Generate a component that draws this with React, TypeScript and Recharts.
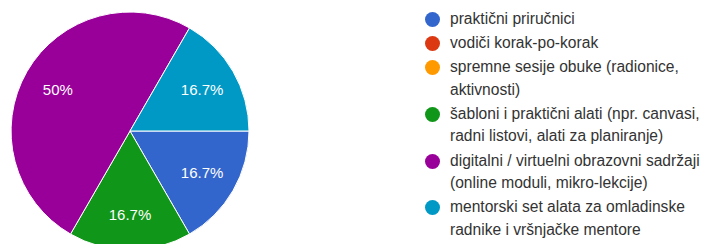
import { PieChart, Pie, Cell, Legend } from "recharts";

const categories = [
  "praktični priručnici",
  "vodiči korak-po-korak",
  "spremne sesije obuke (radionice, aktivnosti)",
  "šabloni i praktični alati (npr. canvasi, radni listovi, alati za planiranje)",
  "digitalni / virtuelni obrazovni sadržaji (online moduli, mikro-lekcije)",
  "mentorski set alata za omladinske radnike i vršnjačke mentore",
];
const responses = [1, 0, 0, 1, 3, 1];
const colors = ["#3366cc", "#dc3912", "#ff9900", "#109618", "#990099", "#0099c6"];

const data = categories.map((name, i) => ({ name, value: responses[i] }));

const RAD = Math.PI / 180;
const FONT = "'Liberation Sans', Arial, sans-serif";

const renderLabel = (props: any) => {
  const { cx, cy, midAngle, outerRadius, percent } = props;
  if (!percent) return null;
  const r = outerRadius * 0.7;
  const x = cx + r * Math.cos(-midAngle * RAD);
  const y = cy + r * Math.sin(-midAngle * RAD);
  const pct = Math.round(percent * 1000) / 10;
  return (
    <text
      x={x}
      y={y}
      fill="#ffffff"
      fontSize={15}
      fontFamily={FONT}
      textAnchor="middle"
      dominantBaseline="central"
    >
      {`${pct}%`}
    </text>
  );
};

const LegendContent = () => (
  <div style={{ fontFamily: FONT, fontSize: 15.6, color: "#333333", width: 300 }}>
    {data.map((d, i) => (
      <div
        key={d.name}
        style={{ display: "flex", alignItems: "flex-start", marginBottom: 1.5, lineHeight: "22.6px" }}
      >
        <span
          style={{
            flex: "none",
            width: 15,
            height: 15,
            borderRadius: "50%",
            background: colors[i],
            marginTop: 4,
            marginRight: 10,
          }}
        />
        <span style={{ width: 275 }}>{d.name}</span>
      </div>
    ))}
  </div>
);

export default function App() {
  return (
    <div
      style={{
        position: "absolute",
        left: 0,
        top: 0,
        width: 710,
        height: 244,
        overflow: "hidden",
        background: "#fff",
      }}
    >
      <PieChart width={710} height={244} margin={{ top: 0, right: 0, bottom: 0, left: 0 }}>
        <Pie
          data={data}
          dataKey="value"
          nameKey="name"
          cx={130}
          cy={131}
          outerRadius={119}
          startAngle={0}
          endAngle={-360}
          stroke="#ffffff"
          strokeWidth={1}
          label={renderLabel}
          labelLine={false}
          isAnimationActive={false}
        >
          {data.map((d, i) => (
            <Cell key={d.name} fill={colors[i]} />
          ))}
        </Pie>
        <Legend
          layout="vertical"
          content={<LegendContent />}
          wrapperStyle={{ position: "absolute", left: 425, top: 8, width: 300 }}
        />
      </PieChart>
    </div>
  );
}
